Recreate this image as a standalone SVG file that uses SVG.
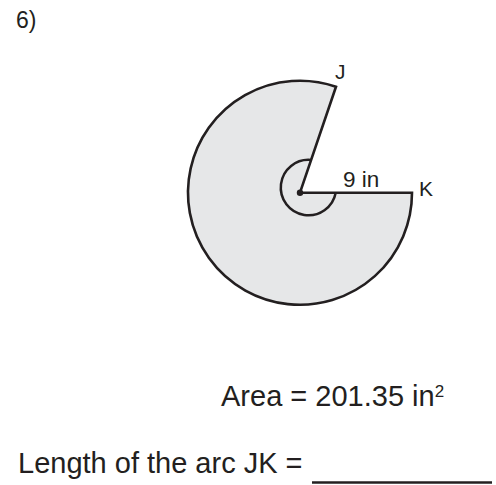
<svg xmlns="http://www.w3.org/2000/svg" width="496" height="485" viewBox="0 0 496 485">
  <style>
    text { font-family: "Liberation Sans", Arial, sans-serif; fill: #231f20; }
    .shape { fill: #e6e7e8; stroke: #231f20; stroke-width: 2.6; stroke-linejoin: miter; }
    .line { fill: none; stroke: #231f20; stroke-width: 2.5; }
  </style>
  <rect width="496" height="485" fill="#ffffff"/>
  <text id="number" x="16" y="28" font-size="23">6)</text>
  <g id="sector">
    <path class="shape" d="M300,192.7 L336,86.7 A112,112 0 1 0 412,192.7 Z"/>
    <path class="line" d="M311,160 A27.7,27.7 0 1 0 335.7,192.7"/>
    <circle cx="300" cy="192.7" r="3.2" fill="#231f20"/>
  </g>
  <g id="labels">
    <text x="335" y="79" font-size="21">J</text>
    <text x="343" y="187" font-size="22.5">9 in</text>
    <text x="419" y="196" font-size="21">K</text>
  </g>
  <g id="area">
    <text x="221" y="406" font-size="29">Area = 201.35 in<tspan font-size="17" dy="-9">2</tspan></text>
  </g>
  <g id="question">
    <text x="18" y="472.5" font-size="29">Length of the arc JK =</text>
    <line class="line" x1="312" y1="482.5" x2="492" y2="482.5"/>
  </g>
</svg>
